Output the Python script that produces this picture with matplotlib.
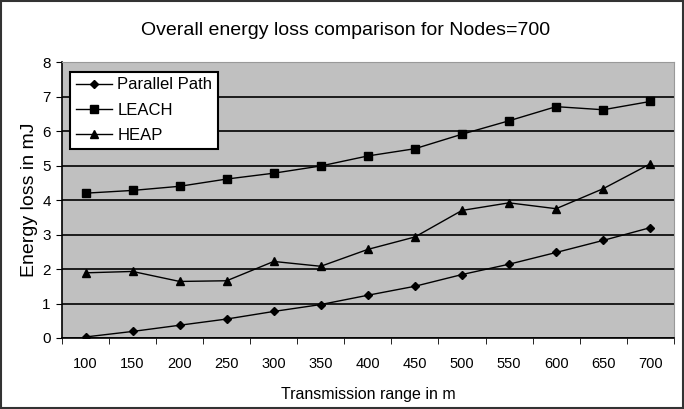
import matplotlib
matplotlib.use("Agg")
import matplotlib.pyplot as plt
from matplotlib.patches import Rectangle

categories = ["100", "150", "200", "250", "300", "350", "400", "450", "500", "550", "600", "650", "700"]
parallel_path = [0.03, 0.19, 0.37, 0.55, 0.77, 0.97, 1.24, 1.50, 1.84, 2.14, 2.48, 2.83, 3.2]
leach = [4.2, 4.28, 4.4, 4.61, 4.78, 4.99, 5.28, 5.49, 5.91, 6.3, 6.71, 6.62, 6.86]
heap = [1.89, 1.93, 1.64, 1.66, 2.22, 2.08, 2.57, 2.93, 3.70, 3.92, 3.75, 4.33, 5.05]
y_ticks = [0, 1, 2, 3, 4, 5, 6, 7, 8]

plt.rcParams['font.family'] = ['Liberation Sans', 'DejaVu Sans']

fig = plt.figure(figsize=(6.84, 4.09), dpi=100)
fig.patch.set_facecolor('white')
fig.add_artist(Rectangle((0.002, 0.003), 0.996, 0.994, transform=fig.transFigure,
                         fill=False, edgecolor='#333333', linewidth=1.5))

ax = fig.add_axes([0.0906, 0.1736, 0.8944, 0.6744])
ax.set_facecolor('#c0c0c0')

x = list(range(len(categories)))
ax.plot(x, parallel_path, color='black', marker='D', markersize=4.5, linewidth=1, label='Parallel Path')
ax.plot(x, leach, color='black', marker='s', markersize=5.5, linewidth=1, label='LEACH')
ax.plot(x, heap, color='black', marker='^', markersize=6, linewidth=1, label='HEAP')

ax.set_xlim(-0.5, len(categories) - 0.5)
ax.set_ylim(0, 8)
ax.set_yticks(y_ticks)
ax.set_xticks(x)
ax.set_xticklabels(categories)
ax.set_xticks([i - 0.5 for i in range(len(categories) + 1)], minor=True)
ax.tick_params(axis='x', which='major', length=0, pad=14, labelsize=10.5)
ax.tick_params(axis='x', which='minor', length=4, direction='out', color='black')
ax.tick_params(axis='y', length=4, direction='out', labelsize=11, pad=4)

ax.yaxis.grid(True, color='black', linewidth=1.2)
ax.set_axisbelow(True)
for s in ['top', 'right']:
    ax.spines[s].set_color('#999999')
for s in ['left', 'bottom']:
    ax.spines[s].set_color('black')
    ax.spines[s].set_linewidth(1.2)

ax.set_xlabel('Transmission range in m', fontsize=11.5, labelpad=11)
ax.set_ylabel('Energy loss in mJ', fontsize=14, labelpad=3)
fig.text(0.505, 0.925, 'Overall energy loss comparison for Nodes=700', ha='center', va='center', fontsize=14)

leg = ax.legend(loc='upper left', bbox_to_anchor=(0.013, 0.966), frameon=True, fancybox=False,
                edgecolor='black', framealpha=1, fontsize=12, handlelength=2.2,
                borderpad=0.35, labelspacing=0.62, handletextpad=0.3, borderaxespad=0)
leg.get_frame().set_linewidth(1.5)

fig.savefig('out.png', dpi=100)
